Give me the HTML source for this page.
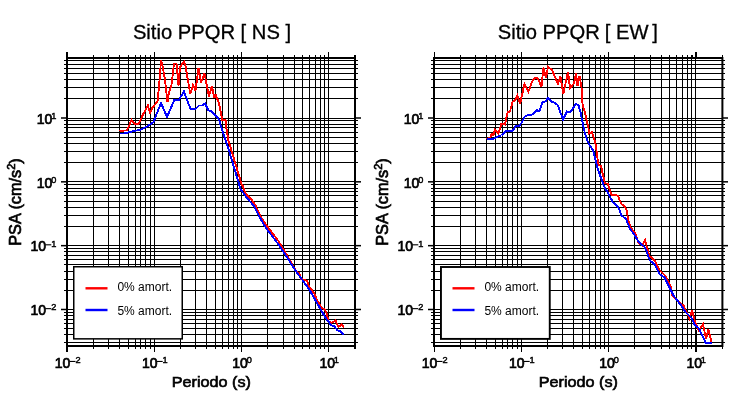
<!DOCTYPE html>
<html><head><meta charset="utf-8"><title>PSA PPQR</title>
<style>
html,body{margin:0;padding:0;background:#fff;}
svg{display:block;}
text{font-family:"Liberation Sans",sans-serif;fill:#000;}
.b{stroke:#000;stroke-width:0.7px;}
.b2{stroke:#000;stroke-width:0.45px;}
.t{stroke:#000;stroke-width:0.3px;}
svg{will-change:transform;}
</style></head><body>
<svg width="730" height="400" viewBox="0 0 730 400">
<rect width="730" height="400" fill="#fff"/>
<g fill="#000" shape-rendering="crispEdges"><rect x="93" y="55" width="1" height="294"/><rect x="108" y="55" width="1" height="294"/><rect x="119" y="55" width="1" height="294"/><rect x="128" y="55" width="1" height="294"/><rect x="135" y="55" width="1" height="294"/><rect x="140" y="55" width="1" height="294"/><rect x="145" y="55" width="1" height="294"/><rect x="150" y="55" width="1" height="294"/><rect x="154" y="52" width="1" height="300"/><rect x="180" y="55" width="1" height="294"/><rect x="195" y="55" width="1" height="294"/><rect x="206" y="55" width="1" height="294"/><rect x="215" y="55" width="1" height="294"/><rect x="222" y="55" width="1" height="294"/><rect x="228" y="55" width="1" height="294"/><rect x="233" y="55" width="1" height="294"/><rect x="237" y="55" width="1" height="294"/><rect x="241" y="52" width="1" height="300"/><rect x="267" y="55" width="1" height="294"/><rect x="283" y="55" width="1" height="294"/><rect x="294" y="55" width="1" height="294"/><rect x="302" y="55" width="1" height="294"/><rect x="309" y="55" width="1" height="294"/><rect x="315" y="55" width="1" height="294"/><rect x="320" y="55" width="1" height="294"/><rect x="324" y="55" width="1" height="294"/><rect x="328" y="52" width="1" height="300"/><rect x="64" y="342" width="294" height="1"/><rect x="64" y="334" width="294" height="1"/><rect x="64" y="328" width="294" height="1"/><rect x="64" y="323" width="294" height="1"/><rect x="64" y="319" width="294" height="1"/><rect x="64" y="315" width="294" height="1"/><rect x="64" y="312" width="294" height="1"/><rect x="61" y="308.74" width="6" height="1.5" shape-rendering="auto"/><rect x="355" y="308.74" width="6" height="1.5" shape-rendering="auto"/><rect x="67" y="309" width="288" height="1"/><rect x="64" y="290" width="294" height="1"/><rect x="64" y="279" width="294" height="1"/><rect x="64" y="271" width="294" height="1"/><rect x="64" y="264" width="294" height="1"/><rect x="64" y="259" width="294" height="1"/><rect x="64" y="255" width="294" height="1"/><rect x="64" y="251" width="294" height="1"/><rect x="64" y="248" width="294" height="1"/><rect x="61" y="244.91" width="6" height="1.5" shape-rendering="auto"/><rect x="355" y="244.91" width="6" height="1.5" shape-rendering="auto"/><rect x="67" y="245" width="288" height="1"/><rect x="64" y="226" width="294" height="1"/><rect x="64" y="215" width="294" height="1"/><rect x="64" y="207" width="294" height="1"/><rect x="64" y="201" width="294" height="1"/><rect x="64" y="195" width="294" height="1"/><rect x="64" y="191" width="294" height="1"/><rect x="64" y="188" width="294" height="1"/><rect x="64" y="184" width="294" height="1"/><rect x="61" y="181.08" width="6" height="1.5" shape-rendering="auto"/><rect x="355" y="181.08" width="6" height="1.5" shape-rendering="auto"/><rect x="67" y="181" width="288" height="1"/><rect x="64" y="162" width="294" height="1"/><rect x="64" y="151" width="294" height="1"/><rect x="64" y="143" width="294" height="1"/><rect x="64" y="137" width="294" height="1"/><rect x="64" y="132" width="294" height="1"/><rect x="64" y="127" width="294" height="1"/><rect x="64" y="124" width="294" height="1"/><rect x="64" y="120" width="294" height="1"/><rect x="61" y="117.25" width="6" height="1.5" shape-rendering="auto"/><rect x="355" y="117.25" width="6" height="1.5" shape-rendering="auto"/><rect x="67" y="118" width="288" height="1"/><rect x="64" y="98" width="294" height="1"/><rect x="64" y="87" width="294" height="1"/><rect x="64" y="79" width="294" height="1"/><rect x="64" y="73" width="294" height="1"/><rect x="64" y="68" width="294" height="1"/><rect x="64" y="64" width="294" height="1"/><rect x="64" y="60" width="294" height="1"/>
<rect x="66" y="57" width="2" height="290"/>
<rect x="354" y="57" width="2" height="290" shape-rendering="auto"/>
<rect x="354" y="55" width="2" height="294"/>
<rect x="66" y="57" width="290" height="2"/>
<rect x="66" y="345" width="290" height="2"/>
<rect x="66" y="52" width="2" height="6"/>
<rect x="66" y="346" width="2" height="6"/>
</g>
<polyline fill="none" shape-rendering="crispEdges" stroke="#ff0000" stroke-width="1.9" stroke-linejoin="miter" stroke-miterlimit="3" points="119.5,130.5 122,131.2 124.5,130.5 127,130.5 131.5,120 134.5,124 138.5,124 143.5,113.5 148,105.5 150,113.5 152.5,107.5 157.5,101.5 159.5,81 161,60.5 162.5,66 165,80 167.5,102 169,92 171.5,85 174,63.5 176.5,63.5 178.5,85.5 180,67 184,61.5 185.5,66 190.3,94 193,85 195.5,90.5 198.5,68 201,82.5 204.5,73.5 209,96.5 211.8,86 214.5,98 215.5,94 219,103.5 221.5,116 222,120 225.5,120 226.5,129 228.5,141 231,149 241.5,184 243,186 245,193 251,199 255,204.5 262,219 267,226 278,240.5 286,253.5 296.5,272 299.5,273.5 301,279 307.3,281 309,286.5 314,293 317,300 321.5,307.5 325,310 326.5,313 328.5,321 331,323 335.5,320.5 338.5,327 341.5,324.5 344,327.5"/>
<polyline fill="none" shape-rendering="crispEdges" stroke="#0000ff" stroke-width="1.9" stroke-linejoin="miter" stroke-miterlimit="3" points="119.5,133.5 124,133.5 128,132.5 141,129.5 148,126 153.5,122 161,103 167,117 174.5,99.5 178.5,100.5 184,91.5 190.5,109 195.5,109 199,105.5 202,105.5 205,103.5 208.5,110.5 211.5,111.5 216,116 219,119.5 221.5,128 225,138 228.5,149 239,184 240.5,189 247,198 254,206 261,219.5 266,228 276,241 285,254 295,270 309,289 325,317 331,325 334.5,326.5 337.5,330.5 340.5,331.5 344,335"/>
<rect x="73.75" y="266.75" width="108.5" height="72.1" fill="#fff" stroke="#000" stroke-width="1.5"/>
<rect x="85.5" y="287.1" width="22" height="2.4" fill="#ff0000"/>
<rect x="85.5" y="308.8" width="22" height="2.4" fill="#0000ff"/>
<text x="117.4" y="291.1" font-size="12">0% amort.</text>
<text x="117.4" y="315" font-size="12">5% amort.</text>
<text x="132.9" y="39" font-size="20.2" class="t">Sitio PPQR [ NS ]</text>
<text transform="translate(211.3,386.8) scale(1,0.9)" font-size="16.2" text-anchor="middle" class="b">Periodo (s)</text>
<text transform="translate(21,202) rotate(-90)" font-size="16.3" text-anchor="middle" class="b">PSA (cm/s<tspan font-size="11" dy="-6">2</tspan><tspan dy="6">)</tspan></text>
<text x="75.4" y="363.3" font-size="9.2" class="b2">2</text><rect x="69.5" y="360.9" width="6" height="1.1"/><text x="70.3" y="368" font-size="14" text-anchor="end" class="b">10</text>
<text x="51.2" y="310.49" font-size="9.2" class="b2">2</text><rect x="45.3" y="308.09" width="6" height="1.1"/><text x="46.1" y="315.19" font-size="14" text-anchor="end" class="b">10</text>
<text x="162.57" y="363.3" font-size="9.2" class="b2">1</text><rect x="156.67000000000002" y="360.9" width="6" height="1.1"/><text x="157.47" y="368" font-size="14" text-anchor="end" class="b">10</text>
<text x="51.2" y="246.66" font-size="9.2" class="b2">1</text><rect x="45.3" y="244.26" width="6" height="1.1"/><text x="46.1" y="251.35999999999999" font-size="14" text-anchor="end" class="b">10</text>
<text x="246.64000000000001" y="363.3" font-size="9.2" class="b2">0</text><text x="247.84000000000003" y="368" font-size="14" text-anchor="end" class="b">10</text>
<text x="51.2" y="182.82999999999998" font-size="9.2" class="b2">0</text><text x="52.4" y="187.52999999999997" font-size="14" text-anchor="end" class="b">10</text>
<text x="333.80999999999995" y="363.3" font-size="9.2" class="b2">1</text><text x="335.01" y="368" font-size="14" text-anchor="end" class="b">10</text>
<text x="51.2" y="119.0" font-size="9.2" class="b2">1</text><text x="52.4" y="123.7" font-size="14" text-anchor="end" class="b">10</text>
<g fill="#000" shape-rendering="crispEdges"><rect x="460" y="55" width="1" height="294"/><rect x="475" y="55" width="1" height="294"/><rect x="486" y="55" width="1" height="294"/><rect x="495" y="55" width="1" height="294"/><rect x="502" y="55" width="1" height="294"/><rect x="507" y="55" width="1" height="294"/><rect x="512" y="55" width="1" height="294"/><rect x="517" y="55" width="1" height="294"/><rect x="521" y="52" width="1" height="300"/><rect x="547" y="55" width="1" height="294"/><rect x="562" y="55" width="1" height="294"/><rect x="573" y="55" width="1" height="294"/><rect x="582" y="55" width="1" height="294"/><rect x="589" y="55" width="1" height="294"/><rect x="595" y="55" width="1" height="294"/><rect x="600" y="55" width="1" height="294"/><rect x="604" y="55" width="1" height="294"/><rect x="608" y="52" width="1" height="300"/><rect x="634" y="55" width="1" height="294"/><rect x="650" y="55" width="1" height="294"/><rect x="661" y="55" width="1" height="294"/><rect x="669" y="55" width="1" height="294"/><rect x="676" y="55" width="1" height="294"/><rect x="682" y="55" width="1" height="294"/><rect x="687" y="55" width="1" height="294"/><rect x="691" y="55" width="1" height="294"/><rect x="695" y="52" width="1" height="300"/><rect x="431" y="342" width="294" height="1"/><rect x="431" y="334" width="294" height="1"/><rect x="431" y="328" width="294" height="1"/><rect x="431" y="323" width="294" height="1"/><rect x="431" y="319" width="294" height="1"/><rect x="431" y="315" width="294" height="1"/><rect x="431" y="312" width="294" height="1"/><rect x="428" y="308.74" width="6" height="1.5" shape-rendering="auto"/><rect x="722" y="308.74" width="6" height="1.5" shape-rendering="auto"/><rect x="434" y="309" width="288" height="1"/><rect x="431" y="290" width="294" height="1"/><rect x="431" y="279" width="294" height="1"/><rect x="431" y="271" width="294" height="1"/><rect x="431" y="264" width="294" height="1"/><rect x="431" y="259" width="294" height="1"/><rect x="431" y="255" width="294" height="1"/><rect x="431" y="251" width="294" height="1"/><rect x="431" y="248" width="294" height="1"/><rect x="428" y="244.91" width="6" height="1.5" shape-rendering="auto"/><rect x="722" y="244.91" width="6" height="1.5" shape-rendering="auto"/><rect x="434" y="245" width="288" height="1"/><rect x="431" y="226" width="294" height="1"/><rect x="431" y="215" width="294" height="1"/><rect x="431" y="207" width="294" height="1"/><rect x="431" y="201" width="294" height="1"/><rect x="431" y="195" width="294" height="1"/><rect x="431" y="191" width="294" height="1"/><rect x="431" y="188" width="294" height="1"/><rect x="431" y="184" width="294" height="1"/><rect x="428" y="181.08" width="6" height="1.5" shape-rendering="auto"/><rect x="722" y="181.08" width="6" height="1.5" shape-rendering="auto"/><rect x="434" y="181" width="288" height="1"/><rect x="431" y="162" width="294" height="1"/><rect x="431" y="151" width="294" height="1"/><rect x="431" y="143" width="294" height="1"/><rect x="431" y="137" width="294" height="1"/><rect x="431" y="132" width="294" height="1"/><rect x="431" y="127" width="294" height="1"/><rect x="431" y="124" width="294" height="1"/><rect x="431" y="120" width="294" height="1"/><rect x="428" y="117.25" width="6" height="1.5" shape-rendering="auto"/><rect x="722" y="117.25" width="6" height="1.5" shape-rendering="auto"/><rect x="434" y="118" width="288" height="1"/><rect x="431" y="98" width="294" height="1"/><rect x="431" y="87" width="294" height="1"/><rect x="431" y="79" width="294" height="1"/><rect x="431" y="73" width="294" height="1"/><rect x="431" y="68" width="294" height="1"/><rect x="431" y="64" width="294" height="1"/><rect x="431" y="60" width="294" height="1"/>
<rect x="433" y="57" width="2" height="290"/>
<rect x="721.4" y="57" width="2" height="290" shape-rendering="auto"/>
<rect x="722" y="55" width="1" height="294"/>
<rect x="433" y="57" width="290" height="2"/>
<rect x="433" y="345" width="290" height="2"/>
<rect x="434" y="52" width="1" height="6"/>
<rect x="434" y="346" width="1" height="6"/>
<rect x="695" y="52" width="2" height="6"/><rect x="691" y="55" width="2" height="3"/><rect x="695" y="330" width="2" height="22"/>
</g>
<polyline fill="none" shape-rendering="crispEdges" stroke="#ff0000" stroke-width="1.9" stroke-linejoin="miter" stroke-miterlimit="3" points="486.5,139 490,138 491.5,134 493.5,135 495,129.5 498.5,133.5 501.5,123.5 505,124.5 507.5,112.5 510,111.5 512.5,102 515.5,99.5 517.5,95.5 520,104 524.5,84 528.5,91.5 532,81.5 535,78 537.5,78 541.5,86.5 543.5,67.5 546,78 548,67 552,70 558,84 560.5,76.5 563.3,94 568,72 570,88 574,83.5 576,73 577.5,86 579.5,76 582,90 582.5,104 585,113 588.5,128.5 589,133.5 592,132 594,138 596,146 597,155 598.5,165 601,166 603,175 605,183.5 607.5,183.5 611.5,195 618,195.5 621,203.5 624.5,206.5 627,211 628,220 631,228 635.5,234 638,242 642,245.5 645,240 646.5,245.5 649.5,256.5 652.5,258 656,262.5 659,269.5 665,275.5 670.5,286 672.5,296 678,301.5 683.5,305.5 686,311 689.5,318.5 692,310.5 695.5,323 699,331 703,324 706,339 708.3,329.5 711.5,342"/>
<polyline fill="none" shape-rendering="crispEdges" stroke="#0000ff" stroke-width="1.9" stroke-linejoin="miter" stroke-miterlimit="3" points="486.5,139 493,139 499,136 501.5,135.5 506,131 510.5,131.5 513,130.5 515.5,126 519,126 521.5,123 524.5,117 528,114.8 531,115.5 537,110.3 539.5,111.3 542.5,102.5 545.5,101.5 548,98 552,102 554.5,102.5 558,105.5 563,119.5 567,111.5 570,112.5 576,104 578.5,105 580.5,112 582,120 584,129 585,134 589,144.5 593,150 596.5,164 597,167 604,186 611.5,199.5 612.5,202 618,206.5 621.5,215.5 626,219 630,229 634,234 638,241 645,247.5 650,260.5 655,265 659.5,274 664.5,277.5 670,288.5 673.5,295.5 680,304 686,312.5 691.5,318 694.5,324.5 699,328.5 704,339 705.4,343 711.7,343"/>
<rect x="440.95" y="267.0" width="108.8" height="71.9" fill="#fff" stroke="#000" stroke-width="1.9"/>
<rect x="452.5" y="287.1" width="22" height="2.4" fill="#ff0000"/>
<rect x="452.5" y="308.8" width="22" height="2.4" fill="#0000ff"/>
<text x="484.4" y="291.1" font-size="12">0% amort.</text>
<text x="484.4" y="315" font-size="12">5% amort.</text>
<text x="497.7" y="39" font-size="20.2" class="t">Sitio PPQR<tspan dx="-0.7"> [</tspan> EW<tspan dx="-1.8"> ]</tspan></text>
<text transform="translate(578.3,386.8) scale(1,0.9)" font-size="16.2" text-anchor="middle" class="b">Periodo (s)</text>
<text transform="translate(388,202) rotate(-90)" font-size="16.3" text-anchor="middle" class="b">PSA (cm/s<tspan font-size="11" dy="-6">2</tspan><tspan dy="6">)</tspan></text>
<text x="442.4" y="363.3" font-size="9.2" class="b2">2</text><rect x="436.5" y="360.9" width="6" height="1.1"/><text x="437.3" y="368" font-size="14" text-anchor="end" class="b">10</text>
<text x="418.2" y="310.49" font-size="9.2" class="b2">2</text><rect x="412.3" y="308.09" width="6" height="1.1"/><text x="413.1" y="315.19" font-size="14" text-anchor="end" class="b">10</text>
<text x="529.57" y="363.3" font-size="9.2" class="b2">1</text><rect x="523.67" y="360.9" width="6" height="1.1"/><text x="524.47" y="368" font-size="14" text-anchor="end" class="b">10</text>
<text x="418.2" y="246.66" font-size="9.2" class="b2">1</text><rect x="412.3" y="244.26" width="6" height="1.1"/><text x="413.1" y="251.35999999999999" font-size="14" text-anchor="end" class="b">10</text>
<text x="613.64" y="363.3" font-size="9.2" class="b2">0</text><text x="614.8399999999999" y="368" font-size="14" text-anchor="end" class="b">10</text>
<text x="418.2" y="182.82999999999998" font-size="9.2" class="b2">0</text><text x="419.40000000000003" y="187.52999999999997" font-size="14" text-anchor="end" class="b">10</text>
<text x="700.8100000000001" y="363.3" font-size="9.2" class="b2">1</text><text x="702.01" y="368" font-size="14" text-anchor="end" class="b">10</text>
<text x="418.2" y="119.0" font-size="9.2" class="b2">1</text><text x="419.40000000000003" y="123.7" font-size="14" text-anchor="end" class="b">10</text>
</svg>
</body></html>
